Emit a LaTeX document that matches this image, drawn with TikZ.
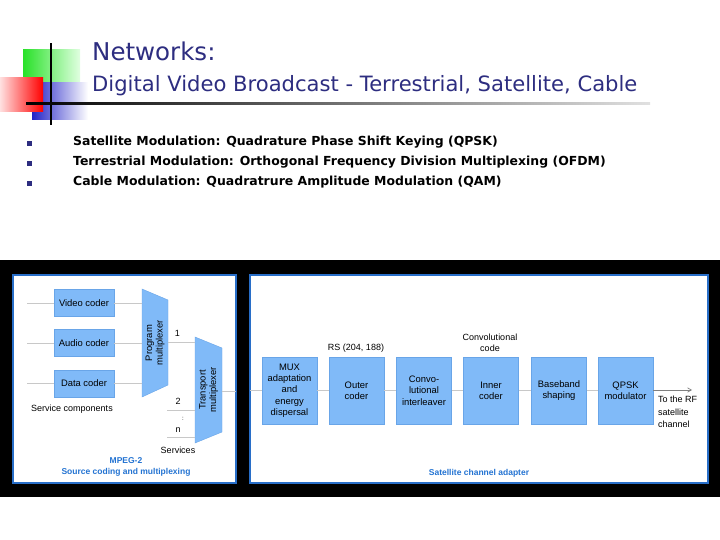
\documentclass[tikz,border=0pt]{standalone}
\usepackage{fontspec}
\setmainfont{Liberation Sans}
\newfontfamily\slidefont{DejaVu Sans}
\usetikzlibrary{arrows}

\definecolor{titleblue}{RGB}{45,45,128}
\definecolor{boxblue}{RGB}{128,186,248}
\definecolor{boxedge}{RGB}{105,165,232}
\definecolor{panelblue}{RGB}{40,110,200}
\definecolor{capblue}{RGB}{35,115,210}
\definecolor{wiregray}{RGB}{200,200,200}

\begin{document}
\begin{tikzpicture}[x=1pt, y=-1pt]
    % styles
    \tikzstyle{coder} = [rectangle, draw=boxedge, fill=boxblue, minimum width=60pt, minimum height=27pt, inner sep=0pt, font=\fontsize{9.4}{11}\selectfont]
    \tikzstyle{stage} = [rectangle, draw=boxedge, fill=boxblue, minimum width=55pt, minimum height=67pt, text width=53pt, align=center, inner sep=0pt, font=\fontsize{9.4}{11.3}\selectfont]
    \tikzstyle{muxshape} = [draw=boxedge, fill=boxblue]
    \tikzstyle{muxtext} = [rotate=90, align=center, inner sep=0pt, font=\fontsize{9.4}{10.5}\selectfont]
    \tikzstyle{panel} = [draw=panelblue, line width=1.5pt, fill=white]
    \tikzstyle{wire} = [draw=wiregray, line width=0.7pt]
    \tikzstyle{lbl} = [inner sep=0pt, font=\fontsize{9}{12}\selectfont]
    \tikzstyle{caption} = [inner sep=0pt, text=capblue, align=center, font=\bfseries\fontsize{8.5}{10.5}\selectfont]
    \tikzstyle{item} = [anchor=base west, inner sep=0pt, font=\slidefont\bfseries\fontsize{12.45}{15}\selectfont]
    \tikzstyle{bullet} = [rectangle, fill=titleblue, minimum size=4.5pt, inner sep=0pt]

    \useasboundingbox (0,0) rectangle (720,540);

    % logo
    \shade[left color={rgb,255:red,40;green,225;blue,40}, right color=green!12] (23,50) rectangle (80,83);
    \shade[left color={rgb,255:red,35;green,35;blue,200}, right color=white] (32,83) rectangle (88,120);
    \shade[left color=red!12, right color=red] (0,78) rectangle (43,112);
    \fill[black] (50,43) rectangle (52,125);
    \shade[left color=black, right color=black!12] (26,102.3) rectangle (650,104.3);

    % title
    \node (net) [anchor=base west, inner sep=0pt, text=titleblue, font=\slidefont\fontsize{24.5}{28}\selectfont] at (92,61) {Networks:};
    \node (dvb) [anchor=base west, inner sep=0pt, text=titleblue, font=\slidefont\fontsize{21.1}{24}\selectfont] at (92,91.7) {Digital Video Broadcast - Terrestrial, Satellite, Cable};

    % bullets
    \node (b1) [bullet] at (29.5,143.5) {};
    \node (b2) [bullet] at (29.5,163.5) {};
    \node (b3) [bullet] at (29.5,183.5) {};
    \node (t1) [item] at (73,145.5) {Satellite Modulation: Quadrature Phase Shift Keying (QPSK)};
    \node (t2) [item] at (73,165.5) {Terrestrial Modulation: Orthogonal Frequency Division Multiplexing (OFDM)};
    \node (t3) [item] at (73,185.5) {Cable Modulation: Quadratrure Amplitude Modulation (QAM)};

    % panels
    \fill[black] (0,260) rectangle (720,497);
    \filldraw[panel] (13,275) rectangle (236,483);
    \filldraw[panel] (250,275) rectangle (708,483);

    % source coding and multiplexing
    \node (vid) [coder] at (84,303) {Video coder};
    \node (aud) [coder] at (84,343) {Audio coder};
    \node (dat) [coder] at (84,383.5) {Data coder};
    \coordinate (vin) at (27,303);
    \coordinate (ain) at (27,343);
    \coordinate (din) at (27,383.5);

    \filldraw[muxshape] (142,289) -- (168,300) -- (168,385) -- (142,397) -- cycle;
    \node (pmux) [muxtext] at (155,343) {Program\\multiplexer};
    \coordinate (pmin) at (142,343);
    \coordinate (pmout) at (168,342);

    \filldraw[muxshape] (195,337) -- (222,348) -- (222,432) -- (195,443) -- cycle;
    \node (tmux) [muxtext] at (208.5,390) {Transport\\multiplexer};
    \coordinate (tmin) at (195,390);
    \coordinate (tmout) at (222,391);
    \coordinate (ledge) at (236,391);
    \coordinate (s2) at (167,410);
    \coordinate (sn) at (167,437);

    \draw[wire] (vin) -- (vid);
    \draw[wire] (ain) -- (aud);
    \draw[wire] (din) -- (dat);
    \draw[wire] (vid) -- (vid -| pmin);
    \draw[wire] (aud) -- (aud -| pmin);
    \draw[wire] (dat) -- (dat -| pmin);
    \draw[wire] (pmout) -- (pmout -| tmin) node[lbl, pos=0.35, above=5pt] {1};
    \draw[wire] (s2) -- (s2 -| tmin) node[lbl, pos=0.4, above=5pt] {2};
    \draw[wire] (sn) -- (sn -| tmin) node[lbl, pos=0.4, above=4pt] (n) {n};
    \draw[wire] (tmout) -- (ledge);
    \node (dots) [lbl, font=\fontsize{6}{6}\selectfont] at (183,419) {:};

    \node (svc) [lbl] at (72,409) {Service components};
    \node (svs) [lbl] at (178,450) {Services};
    \node (mpeg) [caption] at (126,467) {MPEG-2\\Source coding and multiplexing};

    % satellite channel adapter
    \node (mux) [stage] at (289.5,390.5) {MUX\\adaptation\\and\\energy\\dispersal};
    \node (outer) [stage] at (356.5,390.5) {Outer\\coder};
    \node (conv) [stage] at (424,390.5) {Convo-\\lutional\\interleaver};
    \node (inner) [stage] at (491,390.5) {Inner\\coder};
    \node (base) [stage] at (559,390.5) {Baseband\\shaping};
    \node (qpsk) [stage] at (625.5,390.5) {QPSK\\modulator};
    \coordinate (redge) at (250,390);
    \coordinate (rf) at (692,390);

    \draw[wire] (redge) -- (mux.west |- redge);
    \draw[wire] (mux) -- (outer);
    \draw[wire] (outer) -- (conv);
    \draw[wire] (conv) -- (inner);
    \draw[wire] (inner) -- (base);
    \draw[wire] (base) -- (qpsk);
    \draw[wire, ->, >=angle 60, draw=gray] (qpsk.east |- rf) -- (rf);

    \node (rs) [lbl] at (356,348) {RS (204, 188)};
    \node (cc) [lbl, align=center, font=\fontsize{9}{11.5}\selectfont] at (490,343) {Convolutional\\code};
    \node (rfl) [lbl, anchor=north west, align=left, font=\fontsize{9}{12.3}\selectfont] at (658,396) {To the RF\\satellite\\channel};
    \node (sca) [caption] at (479,473) {Satellite channel adapter};
\end{tikzpicture}
\end{document}
